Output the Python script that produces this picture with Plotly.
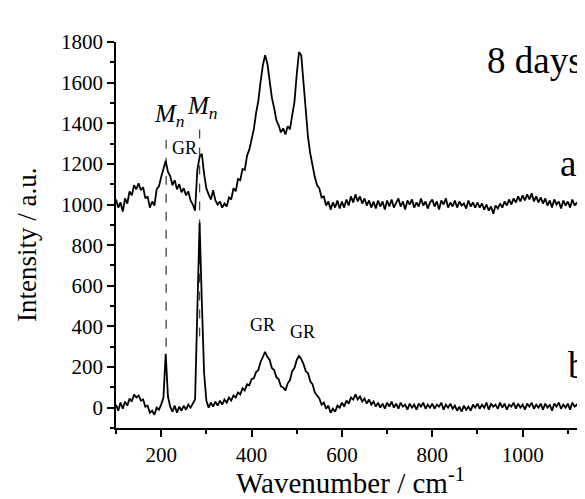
import plotly.graph_objects as go

# Wavenumber grid (cm^-1), 5 cm^-1 sampling
wavenumber = [
    100, 105, 110, 115, 120, 125, 130, 135, 140, 145,
    150, 155, 160, 165, 170, 175, 180, 185, 190, 195,
    200, 205, 210, 215, 220, 225, 230, 235, 240, 245,
    250, 255, 260, 265, 270, 275, 280, 285, 290, 295,
    300, 305, 310, 315, 320, 325, 330, 335, 340, 345,
    350, 355, 360, 365, 370, 375, 380, 385, 390, 395,
    400, 405, 410, 415, 420, 425, 430, 435, 440, 445,
    450, 455, 460, 465, 470, 475, 480, 485, 490, 495,
    500, 505, 510, 515, 520, 525, 530, 535, 540, 545,
    550, 555, 560, 565, 570, 575, 580, 585, 590, 595,
    600, 605, 610, 615, 620, 625, 630, 635, 640, 645,
    650, 655, 660, 665, 670, 675, 680, 685, 690, 695,
    700, 705, 710, 715, 720, 725, 730, 735, 740, 745,
    750, 755, 760, 765, 770, 775, 780, 785, 790, 795,
    800, 805, 810, 815, 820, 825, 830, 835, 840, 845,
    850, 855, 860, 865, 870, 875, 880, 885, 890, 895,
    900, 905, 910, 915, 920, 925, 930, 935, 940, 945,
    950, 955, 960, 965, 970, 975, 980, 985, 990, 995,
    1000, 1005, 1010, 1015, 1020, 1025, 1030, 1035, 1040, 1045,
    1050, 1055, 1060, 1065, 1070, 1075, 1080, 1085, 1090, 1095,
    1100, 1105, 1110, 1115, 1120, 1125, 1130, 1135, 1140,
]

# Spectrum a (offset by +1000 in the original figure)
spectrum_a = [
    1025, 985, 1010, 965, 1030, 1005, 1065, 1045, 1095, 1075,
    1105, 1070, 1085, 1030, 1040, 985, 1015, 995, 1075, 1090,
    1135, 1180, 1215, 1160, 1140, 1095, 1120, 1075, 1100, 1060,
    1080, 1045, 1065, 1020, 1000, 970, 1170, 1235, 1250, 1150,
    1080, 1050, 1025, 1070, 1020, 1000, 1015, 985, 1005, 990,
    1035, 1025, 1080, 1065, 1125, 1120, 1175, 1170, 1240, 1270,
    1325, 1370, 1450, 1510, 1605, 1685, 1735, 1695, 1610, 1525,
    1475, 1415, 1390, 1355, 1375, 1345, 1385, 1370, 1440, 1505,
    1640, 1750, 1735, 1610, 1460, 1330, 1250, 1185, 1135, 1095,
    1080, 1035, 1040, 995, 1015, 975, 1010, 985, 1020, 980,
    1015, 985, 1025, 995, 1040, 1010, 1050, 1015, 1040, 1005,
    1030, 995, 1020, 985, 1015, 980, 1020, 990, 1015, 975,
    1020, 990, 1025, 985, 1010, 1030, 990, 1015, 975, 1020,
    1000, 1025, 985, 1010, 990, 1030, 995, 1015, 980, 1010,
    1025, 990, 1015, 975, 1020, 1000, 1030, 985, 1010, 990,
    1020, 985, 1015, 995, 1005, 980, 1020, 990, 1010, 985,
    1010, 985, 1005, 975, 1000, 970, 990, 955, 995, 980,
    1005, 985, 1015, 995, 1025, 1000, 1030, 1010, 1040, 1015,
    1045, 1020, 1050, 1025, 1055, 1015, 1040, 1010, 1035, 1005,
    1030, 995, 1020, 985, 1025, 1000, 1015, 980, 1020, 995,
    1015, 985, 1025, 995, 1010, 980, 1020, 1000, 1015,
]

# Spectrum b
spectrum_b = [
    15, -15, 25, -5, 30, 10, 45, 30, 65, 50,
    60, 35, 40, 5, 10, -25, -15, -35, 0, -10,
    15, 50, 265, 55, 5, -20, 10, -25, 5, -15,
    10, -10, 15, 0, 20, 40, 480, 910, 520, 170,
    35, 0, 25, 5, 30, 10, 35, 15, 40, 25,
    50, 35, 60, 50, 75, 65, 95, 85, 115, 110,
    140, 145, 175, 185, 225, 250, 275, 250, 235, 195,
    185, 150, 140, 105, 100, 85, 120, 135, 180, 195,
    235, 255, 240, 215, 180, 170, 130, 115, 75, 60,
    45, 15, 25, -5, 10, -25, -5, -20, 10, 0,
    25, 5, 35, 20, 50, 40, 65, 40, 55, 30,
    45, 20, 40, 15, 30, 5, 25, 0, 20, -5,
    25, 5, 30, 0, 20, -5, 25, 5, 15, -10,
    20, 0, 15, -10, 20, 5, 25, -5, 15, 0,
    20, -5, 15, 5, 25, -10, 15, 0, 20, -5,
    10, -15, 5, -20, 10, -10, 5, -15, 15, 0,
    20, -5, 15, 0, 25, -10, 20, 5, 15, -5,
    25, 0, 20, -10, 15, 5, 25, -5, 20, 0,
    15, -10, 20, 5, 25, -5, 15, 0, 20, -10,
    20, 0, 15, -15, 20, 5, 25, -5, 15, 0,
    20, -10, 25, 5, 15, -5, 20, 0, 10,
]

# Dashed marker lines for the Mn bands
mn_positions = [211, 285]
mn_line_top = [1330, 1380]
mn_line_bottom = [300, 350]

x_ticks = [200, 400, 600, 800, 1000]
y_ticks = [0, 200, 400, 600, 800, 1000, 1200, 1400, 1600, 1800]

FONT = "Liberation Serif, Times New Roman, serif"

fig = go.Figure()

for xp, yt, yb in zip(mn_positions, mn_line_top, mn_line_bottom):
    fig.add_trace(go.Scatter(
        x=[xp, xp], y=[yb, yt], mode="lines",
        line=dict(color="#444444", width=1.3, dash="dash"),
        hoverinfo="skip", showlegend=False))

fig.add_trace(go.Scatter(x=wavenumber, y=spectrum_a, mode="lines",
                         line=dict(color="black", width=1.8), showlegend=False))
fig.add_trace(go.Scatter(x=wavenumber, y=spectrum_b, mode="lines",
                         line=dict(color="black", width=1.8), showlegend=False))

axis_common = dict(
    showline=True, linecolor="black", linewidth=1.6,
    ticks="outside", ticklen=7, tickwidth=1.5, tickcolor="black",
    showgrid=False, zeroline=False, mirror=False,
    tickfont=dict(family=FONT, size=21, color="black"),
)

fig.update_xaxes(range=[100, 1138], tickvals=x_ticks,
                 minor=dict(dtick=100, tick0=0, ticks="outside", ticklen=4,
                            tickwidth=1.5, tickcolor="black"),
                 **axis_common)
fig.update_yaxes(range=[-100, 1800], tickvals=y_ticks,
                 minor=dict(dtick=100, tick0=0, ticks="outside", ticklen=4,
                            tickwidth=1.5, tickcolor="black"),
                 **axis_common)

ann = []
def txt(text, x, y, size, xanchor="center", yanchor="middle"):
    ann.append(dict(text=text, x=x, y=y, xref="x", yref="y", showarrow=False,
                    xanchor=xanchor, yanchor=yanchor,
                    font=dict(family=FONT, size=size, color="black")))

txt("<i>M</i><sub><i>n</i></sub>", 218, 1440, 25)
txt("<i>M</i><sub><i>n</i></sub>", 292, 1478, 25)
txt("GR", 251, 1278, 18)
txt("GR", 424.5, 1854, 18)
txt("GR", 515, 1862, 18)
txt("GR", 424.5, 405, 18)
txt("GR", 513, 371, 18)
txt("8 days", 917, 1707, 37, xanchor="left")
txt("a", 1100, 1200, 37)
txt("b", 1097, 208, 37, xanchor="left")

ann.append(dict(text="Intensity / a.u.", x=-0.19, y=0.474, xref="paper", yref="paper",
                showarrow=False, textangle=-90, xanchor="center", yanchor="middle",
                font=dict(family=FONT, size=27, color="black")))
ann.append(dict(text="Wavenumber / cm<sup>-1</sup>", x=0.5, y=-0.137, xref="paper", yref="paper",
                showarrow=False, xanchor="center", yanchor="middle",
                font=dict(family=FONT, size=29, color="black")))

# The page body has an 8 px default margin, so the figure is drawn 8 px in
# from the window's top-left corner; size and margins compensate for that.
fig.update_layout(
    width=577, height=491, autosize=False,
    margin=dict(l=107.5, r=0, t=33.5, b=70.5, pad=0),
    paper_bgcolor="white", plot_bgcolor="white",
    annotations=ann,
    font=dict(family=FONT, color="black"),
)

fig.write_html("out.html")
